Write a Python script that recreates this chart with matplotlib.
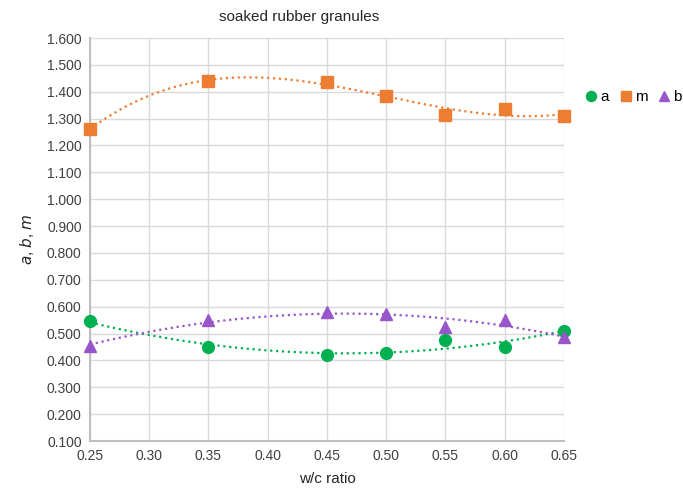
import numpy as np
import matplotlib.pyplot as plt

plt.rcParams['font.family'] = ['Liberation Sans', 'DejaVu Sans']

# data
wc = [0.25, 0.35, 0.45, 0.50, 0.55, 0.60, 0.65]
a_vals = [0.547, 0.450, 0.420, 0.428, 0.476, 0.450, 0.510]
m_vals = [1.261, 1.440, 1.436, 1.384, 1.313, 1.336, 1.310]
b_vals = [0.454, 0.550, 0.580, 0.573, 0.524, 0.550, 0.487]

x_ticks = [0.25, 0.30, 0.35, 0.40, 0.45, 0.50, 0.55, 0.60, 0.65]
y_ticks = np.arange(0.1, 1.6001, 0.1)

green = '#00B050'
orange = '#ED7D31'
purple = '#9955CC'

fig = plt.figure(figsize=(6.83, 4.9), dpi=100)
ax = fig.add_axes([90 / 683, 1 - 441 / 490, (564 - 90) / 683, (441 - 38) / 490])

# polynomial trendlines like the spreadsheet ones
xs = np.linspace(0.25, 0.65, 200)
series = [(a_vals, green, 'o', 'a', 2), (m_vals, orange, 's', 'm', 3), (b_vals, purple, '^', 'b', 2)]
for vals, col, mk, lab, order in series:
    fit = np.polyfit(wc, vals, order)
    ax.plot(xs, np.polyval(fit, xs), ls=':', color=col, lw=1.6, zorder=2)
    ax.plot(wc, vals, ls='none', marker=mk, color=col, ms=8.5, label=lab, zorder=3,
            clip_on=False)

ax.set_xlim(0.25, 0.65)
ax.set_ylim(0.1, 1.6)
ax.set_xticks(x_ticks)
ax.set_xticklabels([f'{v:.2f}' for v in x_ticks])
ax.set_yticks(y_ticks)
ax.set_yticklabels([f'{v:.3f}' for v in y_ticks])
ax.tick_params(length=0, labelsize=10, colors='#404040', pad=6)
ax.grid(True, color='#d9d9d9', lw=1)
ax.set_axisbelow(True)
for s in ['top', 'right']:
    ax.spines[s].set_visible(False)
for s in ['left', 'bottom']:
    ax.spines[s].set_color('#bfbfbf')
    ax.spines[s].set_linewidth(1.5)

ax.set_xlabel('w/c ratio', fontsize=11, color='#262626', labelpad=6)
ax.set_ylabel('$\\mathit{a}$, $\\mathit{b}$, $\\mathit{m}$', fontsize=11, color='#262626',
              labelpad=8)
fig.text(299 / 683, 1 - 17 / 490, 'soaked rubber granules', ha='center', va='center',
         fontsize=11, color='#262626')

fig.legend(loc='center', bbox_to_anchor=(632 / 683, 1 - 97 / 490), ncol=3, frameon=False,
           fontsize=11, handletextpad=0.0, columnspacing=0.5, markerscale=0.85,
           handlelength=1.2)

fig.savefig('out.png', dpi=100)
